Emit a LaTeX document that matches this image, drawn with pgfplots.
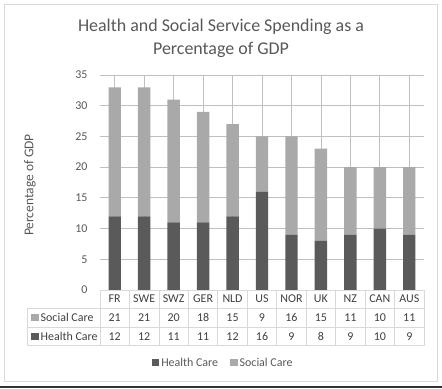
\documentclass[border=0pt]{standalone}
\usepackage{pgfplots}
\pgfplotsset{compat=1.18}
\usepackage{fontspec}
\setmainfont{Carlito}
\definecolor{hc}{HTML}{5A5A5A}
\definecolor{sc}{HTML}{A9A9A9}
\definecolor{grid}{HTML}{D9D9D9}
\definecolor{txt}{HTML}{595959}
\definecolor{ttxt}{HTML}{404040}
\newcommand{\tf}{\fontsize{12}{14}\selectfont}
\begin{document}
\begin{tikzpicture}[x=1bp,y=1bp]
\useasboundingbox (0,0) rectangle (442,388);
\fill[white] (0,0) rectangle (442,388);
\draw[grid, line width=0.8bp] (4.5,6.5) rectangle (437.3,383.5);
\fill[black!80] (0,0) rectangle (442,1.6);
\begin{axis}[
  at={(100bp,98bp)}, anchor=south west,
  scale only axis, width=324bp, height=215bp,
  ybar stacked, bar width=12.4bp,
  xmin=-0.5, xmax=10.5, ymin=0, ymax=35,
  ytick={0,5,...,35},
  xtick={0,...,10},
  xticklabels={FR,SWE,SWZ,GER,NLD,US,NOR,UK,NZ,CAN,AUS},
  xticklabel style={anchor=center, yshift=-9bp, font=\tf, text=ttxt},
  yticklabel style={xshift=-9bp, font=\tf, text=txt},
  /pgf/number format/assume math mode=true,
  axis line style={draw=none},
  major tick length=0pt,
  ymajorgrids, grid style={grid, line width=0.8bp},
  clip=false,
  legend columns=2,
  legend style={draw=none, fill=none, at={(0.38,-0.3395)}, anchor=center,
    font=\tf, text=txt,
    /tikz/every even column/.append style={column sep=10bp}},
  legend image code/.code={\fill[#1] (0bp,-3.5bp) rectangle (7.5bp,4bp);},
]
\addplot[fill=hc, draw=none] coordinates {(0,12) (1,12) (2,11) (3,11) (4,12) (5,16) (6,9) (7,8) (8,9) (9,10) (10,9)};
\addlegendentry{Health Care}
\addplot[fill=sc, draw=none] coordinates {(0,21) (1,21) (2,20) (3,18) (4,15) (5,9) (6,16) (7,15) (8,11) (9,10) (10,11)};
\addlegendentry{Social Care}
\end{axis}
% data table
\begin{scope}[grid, line width=0.8bp]
\draw (100,98) -- (424,98);
\draw (27,80) -- (424,80);
\draw (27,61) -- (424,61);
\draw (27,42.5) -- (424,42.5);
\draw (27,80) -- (27,42.5);
\foreach \k in {0,...,11} {\draw ({100+29.4545*\k},98) -- ({100+29.4545*\k},42.5);}
\end{scope}
\foreach \v [count=\i from 0] in {21,21,20,18,15,9,16,15,11,10,11}
  {\node[text=ttxt, font=\tf] at ({100+29.4545*(\i+0.5)},70.5) {\v};}
\foreach \v [count=\i from 0] in {12,12,11,11,12,16,9,8,9,10,9}
  {\node[text=ttxt, font=\tf] at ({100+29.4545*(\i+0.5)},51.5) {\v};}
\fill[sc] (31,67) rectangle (38.5,74.5);
\node[anchor=west, inner sep=0, text=ttxt, font=\tf] at (40.5,70.5) {Social Care};
\fill[hc] (31,48) rectangle (38.5,55.5);
\node[anchor=west, inner sep=0, text=ttxt, font=\tf] at (40.5,51.5) {Health Care};
% titles
\node[text=txt, font=\fontsize{18}{21}\selectfont] at (221,361) {Health and Social Service Spending as a};
\node[text=txt, font=\fontsize{18}{21}\selectfont] at (221,338) {Percentage of GDP};
\node[text=txt, rotate=90, font=\fontsize{13.5}{16}\selectfont] at (30,203) {Percentage of GDP};
\end{tikzpicture}
\end{document}
